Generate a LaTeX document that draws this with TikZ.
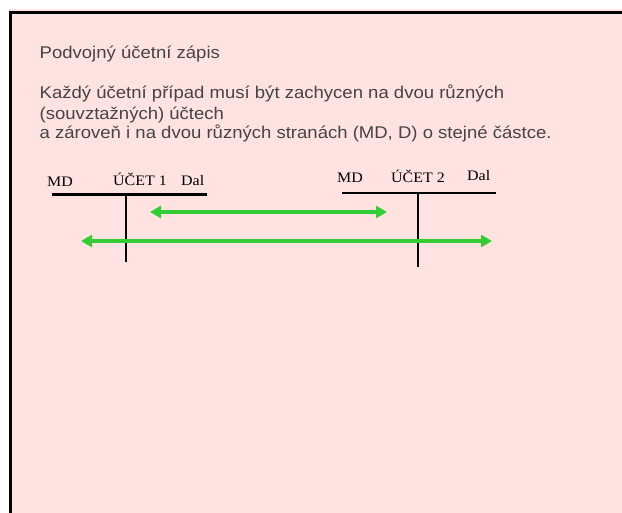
\documentclass[tikz,border=0pt]{standalone}
\usepackage{fontspec}
\setmainfont{Liberation Serif}[FakeStretch=1.1]
\newfontfamily\slidefont{Liberation Sans}[FakeStretch=1.09]
\usetikzlibrary{arrows.meta}
\definecolor{slidepink}{RGB}{255,227,224}
\definecolor{slidetext}{RGB}{68,68,68}
\definecolor{arrowgreen}{RGB}{50,205,50}

\begin{document}
\begin{tikzpicture}
  [x=1pt,y=-1pt,
   every node/.style={inner sep=0pt,anchor=base west},
   slidetxt/.style={font=\slidefont\fontsize{17}{20}\selectfont,text=slidetext},
   acctlbl/.style={font=\fontsize{14.5}{16}\selectfont},
   tline/.style={line width=2.4pt},
   flow/.style={arrowgreen,line width=4pt,
     {Triangle[length=11pt,width=12pt]}-{Triangle[length=11pt,width=12pt]}}]
  \useasboundingbox (0,0) rectangle (622,513);
  \fill[slidepink] (9,9) rectangle (622,513);
  \draw[line width=2.6pt] (10.3,513) -- (10.3,12.3) -- (622,12.3);

  \node[slidetxt] (title) at (39.5,59) {Podvojný účetní zápis};
  \node[slidetxt] (line1) at (39.5,99) {Každý účetní případ musí být zachycen na dvou různých};
  \node[slidetxt] (line2) at (39.5,119.5) {(souvztažných) účtech};
  \node[slidetxt] (line3) at (39.5,139) {a zároveň i na dvou různých stranách (MD, D) o stejné částce.};

  % ucet 1
  \node[acctlbl] (md1) at (47,187) {MD};
  \node[acctlbl] (ucet1) at (113,186) {ÚČET 1};
  \node[acctlbl] (dal1) at (181,185.5) {Dal};
  \draw[tline] (52,194.5) -- (207,194.5) (126,194.5) -- (126,262);

  % ucet 2
  \node[acctlbl] (md2) at (337,183) {MD};
  \node[acctlbl] (ucet2) at (391,183) {ÚČET 2};
  \node[acctlbl] (dal2) at (467,181) {Dal};
  \draw[tline] (342,193) -- (496,193) (418,193) -- (418,267);

  \coordinate (a1) at (150,212);
  \coordinate (b1) at (387,212);
  \coordinate (a2) at (81,241);
  \coordinate (b2) at (492,241);
  \foreach \from/\to in {a1/b1,a2/b2}
    \draw[flow] (\from) -- (\to);
\end{tikzpicture}
\end{document}
